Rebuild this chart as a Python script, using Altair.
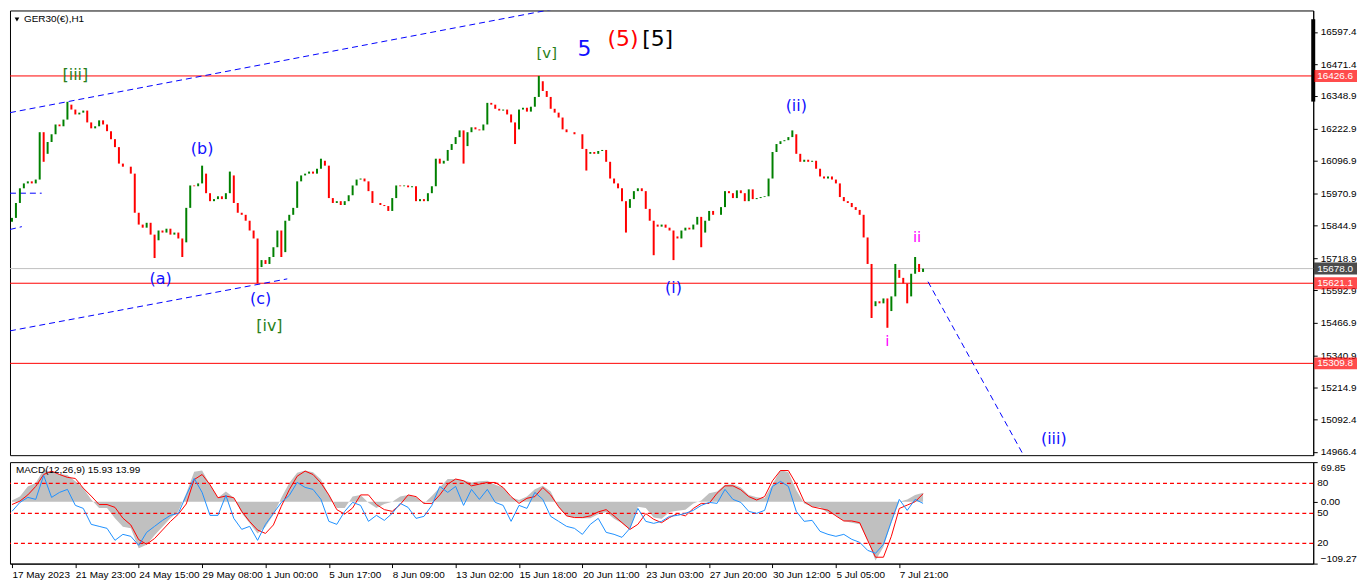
import altair as alt
import pandas as pd

first_open = 15860
closes = [15875, 15933, 15990, 16009, 16017, 16009, 16024, 16208, 16124, 16170,
          16200, 16238, 16231, 16257, 16315, 16296, 16277, 16284, 16292, 16246,
          16223, 16231, 16254, 16238, 16212, 16181, 16150, 16086, 16074, 16074,
          16047, 15895, 15849, 15837, 15856, 15810, 15788, 15826, 15818, 15833,
          15810, 15818, 15795, 15780, 15914, 16001, 15998, 16009, 16047, 15971,
          15940, 15948, 15959, 15948, 15971, 16040, 15933, 15895, 15887, 15864,
          15826, 15795, 15684, 15711, 15696, 15723, 15761, 15826, 15742, 15864,
          15887, 15914, 16017, 16040, 16047, 16055, 16047, 16066, 16097, 16078,
          15952, 15933, 15940, 15925, 15940, 15963, 16001, 16024, 16028, 16017,
          15979, 15933, 15933, 15925, 15921, 15902, 15952, 16001, 15998, 16001,
          15994, 15998, 15940, 15948, 15940, 15971, 15998, 16105, 16086, 16097,
          16139, 16162, 16189, 16215, 16154, 16208, 16227, 16219, 16215, 16238,
          16322, 16315, 16299, 16292, 16296, 16277, 16246, 16219, 16296, 16303,
          16288, 16307, 16345, 16406, 16368, 16345, 16299, 16284, 16265, 16219,
          16208, 16208, 16200, 16200, 16143, 16124, 16131, 16124, 16135, 16139,
          16093, 16028, 16009, 15990, 15940, 15914, 15948, 15979, 15990, 15979,
          15910, 15864, 15849, 15841, 15849, 15837, 15826, 15803, 15795, 15826,
          15837, 15830, 15849, 15879, 15818, 15864, 15902, 15887, 15887, 15917,
          15979, 15971, 15952, 15982, 15971, 15940, 15986, 15948, 15952, 15956,
          15959, 16028, 16131, 16162, 16173, 16177, 16189, 16200, 16124, 16093,
          16101, 16093, 16097, 16066, 16036, 16028, 16036, 16024, 16009, 15956,
          15940, 15933, 15917, 15906, 15887, 15799, 15696, 15532, 15551, 15543,
          15562, 15513, 15570, 15673, 15642, 15620, 15570, 15658, 15696, 15665,
          15678]

wick_idx = [8, 14, 36, 43, 48, 55, 62, 68, 78, 114, 127, 133, 145, 155, 162,
            167, 174, 197, 217, 221, 223, 226, 228]
wick_price = [16093, 16326, 15719, 15723, 16078, 16055, 15621, 15723, 16105, 16086,
              16162, 16426.6, 16059, 15818, 15730, 15711, 15761, 16215, 15486,
              15448, 15696, 15543, 15723]

# ---------------- horizontal levels ----------------
level_prices = [16426.6, 15678.0, 15621.1, 15309.8]
level_colors = ["#ff0000", "#c0c0c0", "#ff0000", "#ff0000"]
box_colors = ["#ff0000", "#000000", "#ff0000", "#ff0000"]
level_text = ["16426.6", "15678.0", "15621.1", "15309.8"]
edge_bar = [16647, 16327]

# ---------------- trend lines (bar index, price) ----------------
trend_id = ["up", "up", "low", "low", "proj", "proj", "h1", "h1", "s1", "s1"]
trend_k = [-0.5, 140, -0.5, 69.5, 231.25, 257, -0.5, 7.5, -0.5, 2.5]
trend_p = [16284, 16696, 15436, 15638, 15627, 14907, 15971, 15971, 15830, 15841]

# ---------------- wave labels ----------------
wave_text = ["[iii]", "(b)", "(a)", "(c)", "[iv]", "[v]", "5", "(5)", "[5]",
             "(ii)", "(i)", "ii", "i", "(iii)"]
wave_k = [16, 48, 37.5, 62.75, 65, 135, 144.5, 154.25, 163, 198, 167, 228.5, 221, 263]
wave_p = [16429, 16143, 15639, 15558, 15455, 16517, 16532, 16571, 16571,
          16311, 15604, 15799, 15398, 15016]
wave_color = ["#2a7f1a", "#1010ff", "#1010ff", "#1010ff", "#2a7f1a", "#2a7f1a",
              "#1010ff", "#ff0000", "#000000", "#1010ff", "#1010ff", "#ff00ff",
              "#ff00ff", "#1010ff"]
wave_size = [16, 16, 16, 16, 16, 15, 22, 22, 22, 16, 16, 15, 15, 16]

# ---------------- axes ----------------
price_ticks = [16597.4, 16471.4, 16348.9, 16222.9, 16096.9, 15970.9, 15844.9,
               15718.9, 15592.9, 15466.9, 15340.9, 15214.9, 15092.4, 14966.4]
time_labels = ["17 May 2023", "21 May 23:00", "24 May 15:00", "29 May 08:00",
               "1 Jun 00:00", "5 Jun 17:00", "8 Jun 09:00", "13 Jun 02:00",
               "15 Jun 18:00", "20 Jun 11:00", "23 Jun 03:00", "27 Jun 20:00",
               "30 Jun 12:00", "5 Jul 05:00", "7 Jul 21:00"]
time_tick_k = [16 * i for i in range(len(time_labels))]

# ---------------- MACD panel (8-hour sampled) ----------------
macd_hist = [2, 9, 27, 33, 57, 52, 49, 47, 36, 24,
             4, -11, -11, -29, -44, -47, -82, -76, -59, -44,
             -29, -17, 15, 53, 55, 30, 7, 18, 7, -20,
             -38, -56, -44, -23, 7, 33, 51, 55, 52, 39,
             12, -11, -11, 9, 12, -2, -11, -4, 0, 9,
             12, 8, -3, 10, 25, 40, 40, 38, 34, 36,
             37, 30, 25, 8, 3, 9, 22, 28, 18, -10,
             -25, -28, -29, -29, -22, -18, -30, -38, -49, -9,
             -11, -28, -30, -18, -16, -14, -3, 2, 15, 18,
             30, 31, 25, 12, 8, 6, 31, 56, 52, 20,
             -3, -9, -10, -20, -24, -34, -37, -40, -68, -104,
             -80, -37, 0, 4, 12, 16]
macd_signal = [-5, 1, 12, 27, 48, 54, 48, 43, 41, 24,
               10, -5, -5, -10, -29, -41, -67, -75, -65, -50,
               -35, -22, -4, 39, 48, 30, 7, 10, 7, -17,
               -35, -50, -56, -41, -8, 21, 45, 54, 48, 33,
               12, -14, -22, -11, 12, 12, -5, -14, -17, -5,
               12, 9, -3, -3, 12, 31, 40, 37, 28, 31,
               34, 34, 25, 9, -3, 6, 9, 25, 12, -9,
               -25, -28, -28, -25, -18, -14, -25, -37, -49, -40,
               -21, -31, -37, -28, -21, -25, -12, -3, -3, 15,
               28, 28, 21, 9, 3, 9, 37, 55, 55, 31,
               0, -9, -12, -15, -25, -34, -34, -37, -68, -98,
               -98, -61, -12, -6, 0, 14]
osc_blue = [52, 61, 66, 64, 88, 66, 71, 74, 58, 55,
            39, 37, 35, 23, 29, 27, 18, 31, 37, 43,
            48, 50, 68, 85, 71, 48, 48, 68, 45, 34,
            37, 23, 39, 50, 61, 68, 81, 76, 74, 64,
            42, 39, 52, 61, 58, 42, 48, 43, 50, 60,
            56, 45, 47, 58, 77, 71, 77, 58, 74, 64,
            74, 61, 58, 42, 58, 55, 71, 64, 47, 42,
            37, 35, 29, 39, 45, 31, 29, 26, 35, 55,
            42, 40, 42, 47, 48, 50, 53, 58, 61, 60,
            74, 64, 61, 52, 50, 53, 77, 82, 77, 52,
            42, 43, 32, 29, 27, 29, 24, 21, 13, 10,
            19, 42, 64, 53, 64, 60]
osc_levels = [80, 50, 20]

# ---------------- build tables ----------------
wick_map = dict(zip(wick_idx, wick_price))
bar_rows = []
for i, c in enumerate(closes):
    o = closes[i - 1] if i > 0 else first_open
    hi, lo = max(o, c), min(o, c)
    if i in wick_map:
        hi = max(hi, wick_map[i])
        lo = min(lo, wick_map[i])
    bar_rows.append({"k": i, "open": o, "close": c, "high": hi, "low": lo,
                     "dir": "up" if c >= o else "down"})
bars = pd.DataFrame(bar_rows)

levels = pd.DataFrame({"price": level_prices, "col": level_colors,
                       "bg": box_colors, "txt": level_text})
edge = pd.DataFrame({"p1": [edge_bar[0]], "p2": [edge_bar[1]]})
trends = pd.DataFrame({"line": trend_id, "k": trend_k, "price": trend_p})
waves = pd.DataFrame({"text": wave_text, "k": wave_k, "price": wave_p,
                      "color": wave_color, "size": wave_size})
macd = pd.DataFrame({"k": [2 * j for j in range(len(macd_hist))],
                     "macd": macd_hist, "signal": macd_signal, "blue": osc_blue})
lv = pd.DataFrame({"lvl": osc_levels, "lbl": [str(v) for v in osc_levels]})
one = pd.DataFrame({"t": ["GER30(€),H1"]})
mtitle = pd.DataFrame({"t": ["MACD(12,26,9) 15.93 13.99"]})

W, H, HM = 1310, 447, 102
K_DOMAIN = [-0.5, 328.5]
P_DOMAIN = [14953, 16681]
FONT = "DejaVu Sans"
AXF = "Liberation Sans"

xs = alt.Scale(domain=K_DOMAIN, nice=False, zero=False)
ys = alt.Scale(domain=P_DOMAIN, nice=False, zero=False)
yax = alt.Axis(orient="right", values=price_ticks, format=".1f", title=None,
               grid=False, tickSize=4, labelPadding=3, labelFlush=False)
xnone = alt.X("k:Q", scale=xs, axis=None)

hl = alt.Chart(levels).mark_rule(strokeWidth=1).encode(
    y=alt.Y("price:Q", scale=ys, axis=yax),
    color=alt.Color("col:N", scale=None))

tl = alt.Chart(trends).mark_line(strokeDash=[6, 4], color="#0000ff",
                                 strokeWidth=1, clip=True).encode(
    x=xnone, y=alt.Y("price:Q", scale=ys, axis=yax), detail="line:N")

br = alt.Chart(bars).mark_rule(strokeWidth=2).encode(
    x=xnone,
    y=alt.Y("low:Q", scale=ys, axis=yax),
    y2="high:Q",
    color=alt.Color("dir:N", scale=alt.Scale(domain=["up", "down"],
                                             range=["#008000", "#ff0000"]),
                    legend=None))

wv = alt.Chart(waves).mark_text(font=FONT, baseline="middle", align="center").encode(
    x=xnone, y=alt.Y("price:Q", scale=ys, axis=yax), text="text:N",
    color=alt.Color("color:N", scale=None),
    size=alt.Size("size:Q", scale=None))

eb = alt.Chart(edge).mark_rule(strokeWidth=4, color="black").encode(
    x=alt.value(W), y=alt.Y("p1:Q", scale=ys, axis=yax), y2="p2:Q")

boxes = alt.Chart(levels).mark_tick(orient="horizontal", thickness=12, size=43).encode(
    x=alt.value(W + 22.5), y=alt.Y("price:Q", scale=ys, axis=yax),
    color=alt.Color("bg:N", scale=None))

boxtxt = alt.Chart(levels).mark_text(align="left", baseline="middle", color="white",
                                     fontSize=10, font=AXF).encode(
    x=alt.value(W + 4), y=alt.Y("price:Q", scale=ys, axis=yax), text="txt:N")

ttl = alt.Chart(one).mark_text(align="left", baseline="middle", fontSize=10,
                               font=AXF, color="black").encode(
    x=alt.value(14), y=alt.value(9), text="t:N")
tri = alt.Chart(one).mark_point(shape="triangle-down", filled=True, size=22,
                                color="black", opacity=1).encode(
    x=alt.value(7), y=alt.value(9))

main = alt.layer(hl, tl, br, wv, eb, boxes, boxtxt, ttl, tri).properties(width=W, height=H)

label_expr = "[" + ",".join("'%s'" % t for t in time_labels) + "][round(datum.value/16)]"
xax = alt.Axis(values=time_tick_k, labelExpr=label_expr, labelAlign="left",
               labelPadding=2, tickSize=4, labelFlush=False,
               labelOverlap=False, title=None, grid=False)
mx = alt.X("k:Q", scale=xs, axis=xax)
ms = alt.Scale(domain=[-109.27, 69.85], nice=False, zero=False)
max_ = alt.Axis(orient="right", values=[69.85, 0, -109.27], format=".2f",
                title=None, grid=False, tickSize=4, labelPadding=3, labelFlush=True)
ss = alt.Scale(domain=[-0.3, 101.3], nice=False, zero=False)

area = alt.Chart(macd).mark_area(color="#c0c0c0", opacity=1).encode(
    x=mx, y=alt.Y("macd:Q", scale=ms, axis=max_), y2=alt.datum(0))
sig = alt.Chart(macd).mark_line(color="#ff0000", strokeWidth=1).encode(
    x=mx, y=alt.Y("signal:Q", scale=ms, axis=max_))

lvr = alt.Chart(lv).mark_rule(color="#ff0000", stroke="#ff0000", strokeOpacity=1,
                              strokeDash=[4, 3], strokeWidth=1.2).encode(
    y=alt.Y("lvl:Q", scale=ss, axis=None))
bl = alt.Chart(macd).mark_line(color="#1e90ff", strokeWidth=1).encode(
    x=mx, y=alt.Y("blue:Q", scale=ss, axis=None))
lvt = alt.Chart(lv).mark_text(align="left", baseline="middle", fontSize=10,
                              font=AXF, color="black").encode(
    x=alt.value(W + 4), y=alt.Y("lvl:Q", scale=ss, axis=None), text="lbl:N")
mtt = alt.Chart(mtitle).mark_text(align="left", baseline="middle", fontSize=10,
                                  font=AXF, color="black").encode(
    x=alt.value(6), y=alt.value(8), text="t:N")

macd_chart = alt.layer(alt.layer(area, sig), alt.layer(lvr, bl, lvt, mtt)).resolve_scale(
    y="independent").properties(width=W, height=HM)

chart = alt.vconcat(main, macd_chart, spacing=3).properties(
    padding={"left": 0, "top": 0, "right": 0, "bottom": 0}
).configure_view(stroke="black", strokeWidth=1).configure_axis(
    labelFont=AXF, labelFontSize=10, labelColor="black", tickColor="black",
    domainColor="black")

chart.save("out.html", embed_options={"renderer": "svg", "actions": False})
